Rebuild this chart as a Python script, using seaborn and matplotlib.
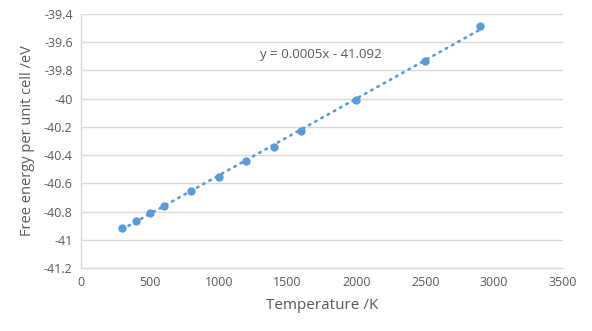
import numpy as np
import pandas as pd
import seaborn as sns
import matplotlib
matplotlib.use("Agg")
import matplotlib.pyplot as plt

temperature = [300, 400, 500, 600, 800, 1000, 1200, 1400, 1600, 2000, 2500, 2900]
free_energy = [-40.915, -40.865, -40.808, -40.758, -40.652, -40.553, -40.441,
               -40.340, -40.226, -40.006, -39.731, -39.488]
x_ticks = [0, 500, 1000, 1500, 2000, 2500, 3000, 3500]
y_ticks = [-41.2, -41, -40.8, -40.6, -40.4, -40.2, -40, -39.8, -39.6, -39.4]
y_tick_labels = ["-41.2", "-41", "-40.8", "-40.6", "-40.4", "-40.2", "-40", "-39.8", "-39.6", "-39.4"]
equation = "y = 0.0005x - 41.092"

df = pd.DataFrame({"T": temperature, "F": free_energy})

sns.set_theme(style="white")
plt.rcParams['font.family'] = ['Open Sans', 'DejaVu Sans']

blue = "#5B9BD5"
grey_text = "#595959"

fig = plt.figure(figsize=(5.92, 3.31), dpi=100)
ax = fig.add_axes([0.1368, 0.190, 0.8142, 0.7677])

# trendline
slope, intercept = np.polyfit(df["T"], df["F"], 1)
xs = np.array([min(temperature), max(temperature)])
line_df = pd.DataFrame({"T": xs, "F": slope * xs + intercept})
sns.lineplot(data=line_df, x="T", y="F", ax=ax, color=blue, linewidth=1.9,
             linestyle=(0, (0.6, 2.1)), dash_capstyle="round")
ax.lines[-1].set_dash_capstyle("round")

sns.scatterplot(data=df, x="T", y="F", ax=ax, color=blue, s=36, edgecolor=blue,
                linewidth=0, zorder=3)

ax.set_xlim(0, 3500)
ax.set_ylim(-41.2, -39.4)
ax.set_xticks(x_ticks)
ax.set_xticklabels([str(v) for v in x_ticks])
ax.set_yticks(y_ticks)
ax.set_yticklabels(y_tick_labels)
ax.grid(axis="y", color="#D9D9D9", linewidth=1.0)
ax.set_axisbelow(True)
ax.tick_params(axis="both", length=0, labelsize=9, colors=grey_text, pad=6)

for s in ["top", "right"]:
    ax.spines[s].set_visible(False)
ax.spines["left"].set_color("#D9D9D9")
ax.spines["bottom"].set_color("#D9D9D9")
ax.spines["left"].set_linewidth(1.0)
ax.spines["bottom"].set_linewidth(1.0)

ax.set_xlabel("Temperature /K", fontsize=11, color=grey_text, labelpad=6)
ax.set_ylabel("Free energy per unit cell /eV", fontsize=10.5, color=grey_text, labelpad=6)

ax.text(1743, -39.69, equation, fontsize=9.5, color=grey_text, ha="center", va="center")

fig.savefig("out.png", dpi=100)
